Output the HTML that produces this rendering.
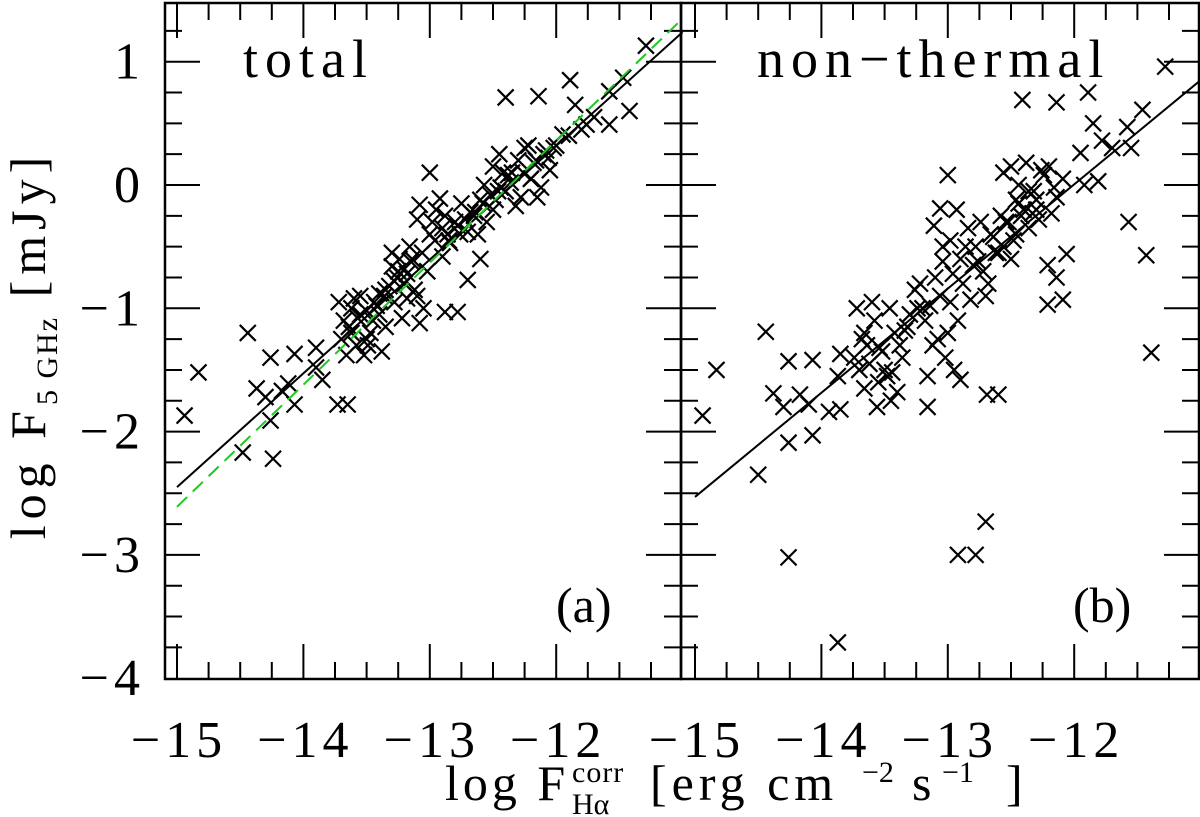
<!DOCTYPE html>
<html><head><meta charset="utf-8"><style>
html,body{margin:0;padding:0;background:#fff;}
svg{display:block;}
text{font-family:"Liberation Serif",serif;fill:#000;}
</style></head><body>
<svg id="chart" width="1200" height="817" viewBox="0 0 1200 817">
<g id="axes"></g>
<g id="marks"></g>
<g id="labels">
 <text x="243" y="77" font-size="54" letter-spacing="7">total</text>
 <text x="757" y="77" font-size="54" letter-spacing="7">non−thermal</text>
 <text x="556" y="622" font-size="50">(a)</text>
 <text x="1073" y="622" font-size="50">(b)</text>
 <text transform="translate(45,345) rotate(-90)" text-anchor="middle" font-size="50" letter-spacing="6">log F<tspan font-size="30" dy="12" letter-spacing="2">5 GHz</tspan><tspan dy="-12"> [mJy]</tspan></text>
 <g>
  <text x="445" y="800" font-size="50" letter-spacing="4">log F</text>
  <text x="572" y="782" font-size="30" letter-spacing="1">corr</text>
  <text x="572" y="814" font-size="30">Hα</text>
  <text x="650" y="800" font-size="50" letter-spacing="5">[erg cm</text>
  <text x="862" y="782" font-size="30">−2</text>
  <text x="912" y="800" font-size="50">s</text>
  <text x="942" y="782" font-size="30">−1</text>
  <text x="1006" y="800" font-size="50">]</text>
 </g>
</g>
</svg>
<script>
const xTicks=[-15,-14,-13,-12];
const yTicks=[1,0,-1,-2,-3,-4];
const totalX=[-14.94,-14.83,-14.44,-14.26,-14.07,-14.37,-14.30,-14.12,-14.17,-14.07,-14.26,-14.48,-14.24,-13.85,-13.9,-13.73,-13.65,-13.9,
-13.72,-13.68,-13.62,-13.6,-13.55,-13.5,-13.45,-13.42,-13.38,-13.35,-13.7,-13.66,-13.58,-13.52,-13.47,-13.4,-13.62,-13.55,-13.49,
-13.3,-13.25,-13.2,-13.15,-13.1,-13.05,-13.28,-13.22,-13.18,-13.12,-13.08,-13.02,-13.24,-13.16,-13.35,-13.28,
-13.0,-13.08,-13.1,-12.78,-12.88,-12.7,-12.6,
-13.0,-12.95,-12.9,-12.85,-12.8,-12.75,-12.7,-12.65,-12.6,-12.55,-12.5,-12.92,-12.84,-12.76,-12.68,-12.62,-12.52,-12.98,-12.88,
-12.57,-12.5,-12.45,-12.4,-12.35,-12.3,-12.25,-12.2,-12.15,-12.1,-12.05,-12.48,-12.38,-12.28,-12.22,-12.12,-12.18,-12.08,-12.32,-12.42,
-12.40,-12.14,-11.89,-11.95,-11.85,-11.76,-11.58,-11.47,-11.58,-11.42,-11.29,-12.0,-11.9,-11.8,-11.7,
-13.64,-13.57,-13.5,-13.44,-13.36,-13.32,-13.26,-13.2,-13.14,-13.06,-12.96,-12.86,-12.78,-12.72,-12.64,-12.58,-12.46,-12.36,-12.26,-12.16,-12.06,-12.02,-13.4,-13.3,-13.18,-12.9,-12.44,-12.2];
const totalY=[-1.87,-1.52,-1.20,-1.40,-1.37,-1.65,-1.72,-1.61,-1.67,-1.78,-1.91,-2.17,-2.22,-1.58,-1.32,-1.78,-1.78,-1.48,
-0.95,-1.1,-1.2,-0.92,-1.05,-1.25,-1.1,-0.98,-1.35,-1.15,-1.25,-1.38,-1.3,-1.38,-1.2,-1.05,-1.0,-0.9,-1.3,
-0.55,-0.7,-0.8,-0.62,-0.9,-1.0,-0.95,-1.08,-0.72,-0.85,-1.12,-0.7,-0.6,-0.5,-0.85,-0.78,
0.1,-0.16,-0.28,-1.03,-1.03,-0.77,-0.6,
-0.4,-0.2,-0.35,-0.45,-0.3,-0.15,-0.38,-0.25,-0.12,-0.3,-0.2,-0.11,-0.47,-0.4,-0.22,-0.4,-0.08,-0.3,-0.25,
0.0,0.15,0.25,-0.05,0.1,0.2,0.3,0.05,-0.1,0.25,0.12,-0.12,0.08,-0.1,0.32,-0.02,0.18,0.28,-0.17,0.1,
0.71,0.72,0.85,0.41,0.65,0.49,0.76,0.87,0.49,0.6,1.13,0.32,0.4,0.45,0.55,
-1.15,-1.08,-1.02,-0.95,-0.9,-0.82,-0.75,-0.68,-0.6,-0.55,-0.45,-0.4,-0.33,-0.28,-0.22,-0.15,-0.05,0.02,0.1,0.2,0.22,0.3,-0.88,-0.66,-0.92,-0.58,-0.02,0.05];
const nthX=[-14.94,-14.83,-14.44,-14.26,-14.07,-14.38,-14.3,-14.17,-14.1,-14.07,-14.26,-14.5,-13.85,-13.94,-13.85,-13.87,-13.56,
-13.72,-13.68,-13.62,-13.58,-13.52,-13.48,-13.42,-13.36,-13.3,-13.7,-13.64,-13.55,-13.45,-13.38,-13.32,-13.66,-13.5,-13.4,-13.6,
-13.22,-13.18,-13.12,-13.06,-13.0,-12.95,-12.9,-13.2,-13.1,-13.02,-12.92,-13.16,-13.08,-12.98,-12.6,-13.16,
-13.0,-13.06,-13.11,-12.93,-12.98,-12.9,-12.84,-12.78,-12.72,-12.66,-12.6,-12.54,-12.48,-12.42,-12.36,-12.88,-12.8,-12.7,-12.62,-12.5,-12.4,-12.74,-12.56,-12.46,-12.82,
-12.21,-12.09,-12.14,-12.21,-12.06,
-12.56,-12.5,-12.44,-12.38,-12.32,-12.26,-12.2,-12.14,-12.09,-12.46,-12.3,-12.18,-12.33,
-12.41,-12.14,-11.89,-11.85,-11.78,-11.95,-11.81,-11.92,-11.7,-11.58,-11.46,-11.55,-11.28,-11.57,-11.43,-11.39,
-13.87,-14.26,-12.92,-12.78,-12.7,-12.69,
-13.74,-13.66,-13.54,-13.46,-13.34,-13.26,-13.14,-13.04,-12.96,-12.86,-12.76,-12.64,-12.52,-12.44,-12.36,-12.28,-12.24,-12.16,-13.44,-13.24,-13.04,-12.68,-12.58,-12.3];
const nthY=[-1.87,-1.50,-1.19,-1.43,-1.42,-1.69,-1.80,-1.7,-1.78,-2.03,-2.09,-2.35,-1.82,-1.84,-1.37,-1.55,-1.80,
-1.0,-1.25,-1.45,-1.1,-1.35,-1.55,-1.2,-1.4,-1.05,-1.5,-1.3,-1.6,-1.75,-1.3,-1.15,-1.65,-1.5,-1.68,-0.95,
-0.8,-1.1,-1.3,-0.9,-1.2,-1.5,-1.58,-1.0,-0.75,-1.4,-1.1,-1.55,-1.25,-0.95,-1.70,-1.80,
0.08,-0.19,-0.33,-0.2,-0.45,-0.6,-0.35,-0.5,-0.7,-0.4,-0.55,-0.3,-0.45,-0.25,-0.35,-0.8,-0.65,-0.9,-0.55,-0.6,-0.2,-0.3,-0.5,-0.4,-0.93,
-0.97,-0.93,-0.75,-0.65,-0.56,
0.1,0.15,0.0,0.18,-0.05,0.12,0.15,-0.1,0.05,-0.12,-0.2,-0.23,-0.23,
0.69,0.67,0.75,0.5,0.36,0.26,0.03,0.0,0.3,0.47,0.61,0.3,0.96,-0.3,-0.57,-1.36,
-3.71,-3.02,-3.0,-3.0,-2.73,-1.70,
-1.4,-1.2,-1.32,-1.0,-1.18,-0.85,-0.98,-0.62,-0.72,-0.5,-0.62,-0.42,-0.3,-0.15,-0.05,-0.28,0.08,-0.02,-1.52,-1.0,-0.5,-0.8,-0.25,-0.12];
const fitA=[-2.45,1.24], fitAgreen=[-2.61,1.35], fitB=[-2.53,0.85];

const NS='http://www.w3.org/2000/svg';
const panels=[{x0:165,x1:681,o:177,name:'a'},{x0:681,x1:1199,o:695,name:'b'}];
const yTop=3,yBot=679,ppx=126.4,ppy=123.3,y0px=185;
function sx(p,v){return p.o+(v+15)*ppx;}
function sy(v){return y0px-v*ppy;}
function mk(tag,attrs,parent){const e=document.createElementNS(NS,tag);for(const k in attrs)e.setAttribute(k,attrs[k]);parent.appendChild(e);return e;}
const axes=document.getElementById('axes'),marks=document.getElementById('marks');
panels.forEach(p=>{
 const f=mk('rect',{x:p.x0,y:yTop,width:p.x1-p.x0,height:yBot-yTop,fill:'none',stroke:'#000','stroke-width':2.5},axes);
 
 
 for(let v=-15;v<=-11.01;v+=0.25){
  const x=sx(p,v);if(x<p.x0+1||x>p.x1-1)continue;
  const maj=Math.abs(v-Math.round(v))<1e-6, L=maj?35:17;
  mk('line',{x1:x,x2:x,y1:yBot,y2:yBot-L,stroke:'#000','stroke-width':2},axes);
  mk('line',{x1:x,x2:x,y1:yTop,y2:yTop+L,stroke:'#000','stroke-width':2},axes);
 }
 for(let v=-4;v<=1.5;v+=0.25){
  const y=sy(v);if(y<yTop+1||y>yBot-1)continue;
  const maj=Math.abs(v-Math.round(v))<1e-6, L=maj?35:17;
  mk('line',{x1:p.x0,x2:p.x0+L,y1:y,y2:y,stroke:'#000','stroke-width':2},axes);
  mk('line',{x1:p.x1,x2:p.x1-L,y1:y,y2:y,stroke:'#000','stroke-width':2},axes);
 }
 xTicks.forEach(t=>{
  const tx=mk('text',{x:sx(p,t)+2,y:757,'font-size':52,'text-anchor':'middle','letter-spacing':5},axes);
  tx.textContent='−'+Math.abs(t);
  
  
 });
});
yTicks.forEach(t=>{
 const tx=mk('text',{x:145,y:sy(t)+17,'font-size':52,'text-anchor':'end','letter-spacing':5},axes);
 tx.textContent=t<0?'−'+Math.abs(t):String(t);
 
 
});
function cross(p,x,y,nm){
 const cx=sx(p,x),cy=sy(y),r=8;
 const g=mk('path',{d:`M${cx-r},${cy-r}L${cx+r},${cy+r}M${cx-r},${cy+r}L${cx+r},${cy-r}`,stroke:'#000','stroke-width':2.2,fill:'none'},marks);
 
 
}
totalX.forEach((x,i)=>cross(panels[0],x,totalY[i],'total-point'));
nthX.forEach((x,i)=>cross(panels[1],x,nthY[i],'nonthermal-point'));
function fit(p,ys,attrs,nm){
 const l=mk('line',Object.assign({x1:sx(p,-15),y1:sy(ys[0]),x2:sx(p,-11),y2:sy(ys[1])},attrs),marks);
 
 
}
fit(panels[0],fitA,{stroke:'#000','stroke-width':2},'total-fit-line');
fit(panels[0],fitAgreen,{stroke:'#1ec81e','stroke-width':2,'stroke-dasharray':'14,8'},'total-fit-dashed-line');
fit(panels[1],fitB,{stroke:'#000','stroke-width':2},'nonthermal-fit-line');
</script>
</body></html>
